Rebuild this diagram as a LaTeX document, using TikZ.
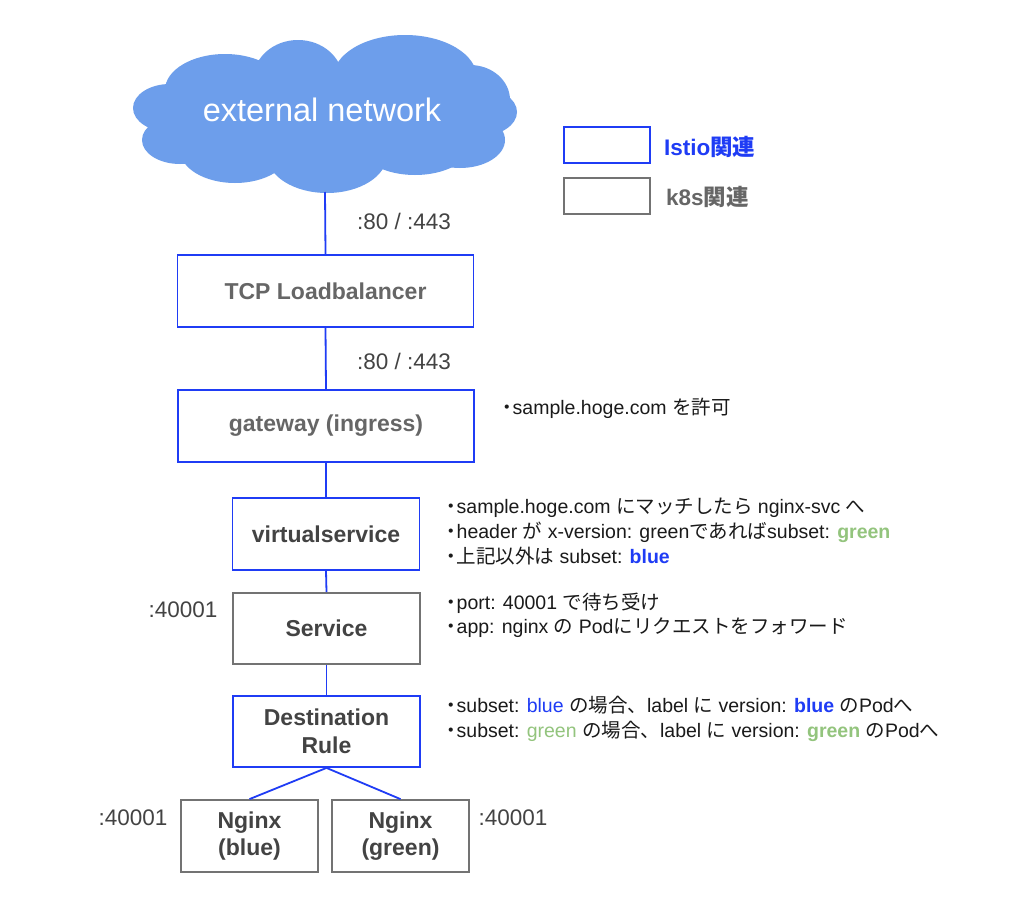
\documentclass[tikz,border=0pt]{standalone}
\usepackage{fontspec}
\setmainfont{Liberation Sans}
\newfontfamily\jp{Noto Sans CJK JP}
\newcommand{\J}[1]{{\jp #1}}
\definecolor{iblue}{HTML}{1F3CF5}
\definecolor{kgray}{HTML}{737373}
\definecolor{lgray}{HTML}{666666}
\definecolor{dgray}{HTML}{434343}
\definecolor{ggreen}{HTML}{93C47D}
\definecolor{cloudc}{HTML}{6D9EEB}
\definecolor{ntext}{HTML}{1A1A1A}
\newcommand{\dotb}{\J{・}\kern-4pt}
\begin{document}
\begin{tikzpicture}[x=1pt,y=-1pt,
  boxbase/.style={line width=1.8pt, inner sep=0pt, align=center,
    font=\fontsize{23}{27.5}\selectfont\bfseries},
  ibox/.style={boxbase, draw=iblue},
  kbox/.style={boxbase, draw=kgray},
  conn/.style={draw=iblue, line width=1.8pt},
  portlbl/.style={text=dgray, inner sep=0pt, font=\fontsize{22.5}{27}\selectfont},
  note/.style={anchor=base west, inner sep=0pt, text=ntext, font=\fontsize{19.5}{24}\selectfont},
  legtext/.style={anchor=west, inner sep=0pt, font=\fontsize{22.5}{27}\selectfont\bfseries}
]
\useasboundingbox (0,0) rectangle (1024,910);
\fill[white] (0,0) rectangle (1024,910);

% cloud
\begin{scope}[fill=cloudc]
\fill (325,115) ellipse [x radius=175, y radius=50];
\fill (225,90) ellipse [x radius=60, y radius=36];
\fill (298,80) ellipse [x radius=45, y radius=40];
\fill (405,78) ellipse [x radius=72, y radius=43];
\fill (470,100) ellipse [x radius=40, y radius=35];
\fill (480,112) ellipse [x radius=37, y radius=24];
\fill (460,140) ellipse [x radius=45, y radius=28];
\fill (415,145) ellipse [x radius=55, y radius=30];
\fill (327,155) ellipse [x radius=60, y radius=38];
\fill (235,150) ellipse [x radius=55, y radius=33];
\fill (180,140) ellipse [x radius=38, y radius=24];
\fill (170,108) ellipse [x radius=37, y radius=24];
\end{scope}
\node[text=white, inner sep=0pt, font=\fontsize{32.5}{38}\selectfont] (cloud) at (322,110) {external network};
\coordinate (cloudbot) at (325,192);

% boxes
\node[ibox, text=lgray, minimum width=296pt, minimum height=72pt] (tcp) at (325.5,291) {TCP Loadbalancer};
\node[ibox, text=lgray, minimum width=296pt, minimum height=72pt] (gw) at (326,426) {gateway (ingress)};
\node[ibox, text=dgray, minimum width=187pt, minimum height=72pt] (vs) at (326,534) {virtualservice};
\node[kbox, text=dgray, minimum width=187pt, minimum height=71pt] (svc) at (326.5,628.5) {Service};
\node[ibox, text=dgray, minimum width=187pt, minimum height=71pt] (dr) at (326.5,731.5) {Destination\\Rule};
\node[kbox, text=dgray, minimum width=137pt, minimum height=72pt] (nb) at (249.5,836) {Nginx\\(blue)};
\node[kbox, text=dgray, minimum width=137pt, minimum height=72pt] (ng) at (400.5,836) {Nginx\\(green)};

% connectors
\draw[conn] (cloudbot) -- (tcp.north);
\draw[conn] (tcp.south) -- (gw.north);
\draw[conn] (gw.south) -- (vs.north);
\draw[conn] (vs.south) -- (svc.north);
\draw[conn] (svc.south) -- (dr.north);
\draw[conn] (dr.south) -- (nb.north);
\draw[conn] (dr.south) -- (ng.north);

% port labels
\node[portlbl] (p1) at (404,221) {:80 / :443};
\node[portlbl] (p2) at (404,361) {:80 / :443};
\node[portlbl] (p3) at (183,610) {:40001};
\node[portlbl] (p4) at (133,818) {:40001};
\node[portlbl] (p5) at (513,818) {:40001};

% legend
\node[ibox, minimum width=86pt, minimum height=36pt] (legi) at (607,145) {};
\node[kbox, minimum width=86pt, minimum height=36pt] (legk) at (607,196) {};
\node[legtext, text=iblue] (legit) at (664,147) {Istio\J{\bfseries 関連}};
\node[legtext, text=lgray] (legkt) at (666,197) {k8s\J{\bfseries 関連}};

% notes
\node[note] (n0) at (497,414) {\dotb sample.hoge.com \J{を許可}};

\node[note] (n1) at (441,513) {\dotb sample.hoge.com \J{にマッチしたら} nginx-svc \J{へ}};
\node[note] (n2) at (441,538) {\dotb header \J{が} x-version: green\J{であれば}subset: \textcolor{ggreen}{\bfseries green}};
\node[note] (n3) at (441,563) {\dotb \J{上記以外は} subset: \textcolor{iblue}{\bfseries blue}};

\node[note] (n4) at (441,609) {\dotb port: 40001 \J{で待ち受け}};
\node[note] (n5) at (441,633) {\dotb app: nginx \J{の} Pod\J{にリクエストをフォワード}};

\node[note] (n6) at (441,712) {\dotb subset: \textcolor{iblue}{blue} \J{の場合、}label \J{に} version: \textcolor{iblue}{\bfseries blue} \J{の}Pod\J{へ}};
\node[note] (n7) at (441,737) {\dotb subset: \textcolor{ggreen}{green} \J{の場合、}label \J{に} version: \textcolor{ggreen}{\bfseries green} \J{の}Pod\J{へ}};
\end{tikzpicture}
\end{document}
